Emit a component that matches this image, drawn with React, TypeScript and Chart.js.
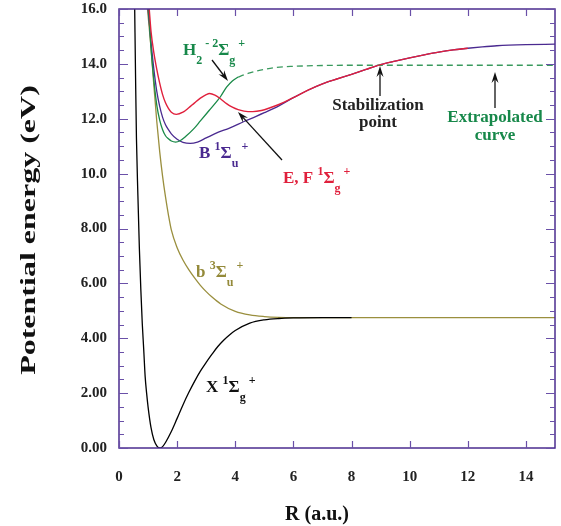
import React, { useEffect, useRef } from 'react';
import { Chart, registerables } from 'chart.js';

Chart.register(...registerables);

// ---- axis ticks ----
const xTickValues = [0, 2, 4, 6, 8, 10, 12, 14];
const yTickValues = [0, 2, 4, 6, 8, 10, 12, 14, 16];
const yTickLabels = ['0.00', '2.00', '4.00', '6.00', '8.00', '10.0', '12.0', '14.0', '16.0'];

// ---- X 1Σg+ (ground state) ----
const xStateR = [0.54, 0.57, 0.6, 0.65, 0.7, 0.75, 0.8, 0.85, 0.9, 0.95, 1.0, 1.1, 1.2, 1.3, 1.4, 1.5, 1.6, 1.8, 2.0, 2.2, 2.4, 2.6, 2.8, 3.0, 3.2, 3.4, 3.6, 3.8, 4.0, 4.5, 5.0, 5.5, 6.0, 7.0, 8.0];
const xStateE = [16.0, 13.5, 11.3, 9.2, 7.3, 5.8, 4.55, 3.6, 2.6, 2.0, 1.5, 0.75, 0.3, 0.08, 0.0, 0.05, 0.2, 0.6, 1.08, 1.57, 2.02, 2.43, 2.8, 3.12, 3.42, 3.7, 3.93, 4.12, 4.28, 4.55, 4.67, 4.72, 4.74, 4.75, 4.75];

// ---- b 3Σu+ ----
const bStateR = [0.98, 1.1, 1.2, 1.3, 1.4, 1.5, 1.6, 1.7, 1.8, 2.0, 2.2, 2.4, 2.6, 2.8, 3.0, 3.2, 3.5, 4.0, 4.5, 5.0, 5.5, 6.0, 8.0, 10.0, 12.0, 15.0];
const bStateE = [16.0, 14.6, 13.2, 11.9, 10.8, 9.9, 9.15, 8.5, 7.95, 7.3, 6.85, 6.5, 6.2, 5.93, 5.7, 5.5, 5.25, 4.98, 4.85, 4.79, 4.76, 4.75, 4.75, 4.75, 4.75, 4.75];

// ---- B 1Σu+ ----
const bigBStateR = [1.0, 1.1, 1.2, 1.3, 1.4, 1.5, 1.6, 1.7, 1.8, 2.0, 2.2, 2.45, 2.7, 3.0, 3.4, 3.8, 4.3, 4.7, 5.0, 5.5, 6.0, 6.5, 7.0, 7.5, 8.0, 8.5, 9.0, 9.5, 10.0, 10.5, 11.0, 11.5, 12.0, 12.5, 13.0, 14.0, 15.0];
const bigBStateE = [16.0, 14.8, 13.8, 13.0, 12.45, 12.05, 11.78, 11.6, 11.45, 11.25, 11.14, 11.1, 11.15, 11.3, 11.5, 11.66, 11.9, 12.08, 12.22, 12.47, 12.77, 13.04, 13.27, 13.45, 13.62, 13.8, 13.97, 14.1, 14.22, 14.33, 14.43, 14.51, 14.57, 14.62, 14.66, 14.7, 14.72];

// ---- H2- 2Σg+ (computed part) ----
const anionR = [1.02, 1.1, 1.2, 1.3, 1.4, 1.5, 1.6, 1.7, 1.8, 1.95, 2.1, 2.3, 2.56, 2.8, 3.1, 3.4, 3.5, 3.7, 3.9, 4.1];
const anionE = [16.0, 14.6, 13.4, 12.5, 11.95, 11.6, 11.38, 11.27, 11.19, 11.15, 11.2, 11.36, 11.62, 11.92, 12.3, 12.68, 12.82, 13.15, 13.38, 13.52];

// ---- H2- extrapolated curve (dashed) ----
const extrapR = [4.1, 4.3, 4.5, 4.75, 5.0, 5.4, 6.0, 7.0, 8.0, 15.0];
const extrapE = [13.52, 13.6, 13.67, 13.74, 13.8, 13.87, 13.91, 13.94, 13.95, 13.95];

// ---- E,F 1Σg+ ----
const efStateR = [1.04, 1.1, 1.2, 1.3, 1.4, 1.5, 1.6, 1.7, 1.8, 1.97, 2.2, 2.4, 2.6, 2.8, 3.0, 3.12, 3.3, 3.5, 3.7, 3.9, 4.1, 4.3, 4.6, 4.9, 5.2, 5.5, 6.0, 6.5, 7.0, 7.5, 8.0, 8.5, 9.0, 9.5, 10.0, 10.5, 11.0, 11.5, 12.0];
const efStateE = [16.0, 15.2, 14.4, 13.8, 13.3, 12.88, 12.58, 12.38, 12.24, 12.16, 12.24, 12.4, 12.58, 12.75, 12.88, 12.92, 12.86, 12.72, 12.55, 12.42, 12.33, 12.28, 12.26, 12.3, 12.4, 12.52, 12.77, 13.04, 13.27, 13.45, 13.62, 13.8, 13.97, 14.1, 14.22, 14.33, 14.43, 14.51, 14.57];

const pts = (r: number[], e: number[]) => r.map((v, i) => ({ x: v, y: e[i] }));

const SERIF = '"Liberation Serif", "Times New Roman", serif';
const FRAME = '#4b2d8f';

type Part = [string, 'n' | 'sup' | 'sub'];

function drawRich(ctx: CanvasRenderingContext2D, x: number, y: number, parts: Part[], color: string, size = 17) {
  ctx.fillStyle = color;
  ctx.textAlign = 'left';
  ctx.textBaseline = 'alphabetic';
  let cx = x;
  const small = Math.round(size * 0.7);
  for (const [t, k] of parts) {
    if (k === 'n') {
      ctx.font = `bold ${size}px ${SERIF}`;
      ctx.fillText(t, cx, y);
    } else if (k === 'sup') {
      ctx.font = `bold ${small}px ${SERIF}`;
      ctx.fillText(t, cx, y - size * 0.48);
    } else {
      ctx.font = `bold ${small}px ${SERIF}`;
      ctx.fillText(t, cx, y + size * 0.5);
    }
    cx += ctx.measureText(t).width;
  }
}

function arrow(ctx: CanvasRenderingContext2D, x1: number, y1: number, x2: number, y2: number) {
  const ang = Math.atan2(y2 - y1, x2 - x1);
  const len = 11;
  const hw = 3.5;
  ctx.strokeStyle = '#111';
  ctx.fillStyle = '#111';
  ctx.lineWidth = 1.3;
  ctx.beginPath();
  ctx.moveTo(x1, y1);
  ctx.lineTo(x2 - Math.cos(ang) * len * 0.6, y2 - Math.sin(ang) * len * 0.6);
  ctx.stroke();
  const bx = x2 - Math.cos(ang) * len;
  const by = y2 - Math.sin(ang) * len;
  ctx.beginPath();
  ctx.moveTo(x2, y2);
  ctx.lineTo(bx - Math.sin(ang) * hw, by + Math.cos(ang) * hw);
  ctx.lineTo(x2 - Math.cos(ang) * len * 0.65, y2 - Math.sin(ang) * len * 0.65);
  ctx.lineTo(bx + Math.sin(ang) * hw, by - Math.cos(ang) * hw);
  ctx.closePath();
  ctx.fill();
}

const decoPlugin = {
  id: 'deco',
  afterDraw(chart: any) {
    const { ctx, chartArea: ca, scales } = chart;
    const xs = scales.x;
    const ys = scales.y;
    ctx.save();
    // frame
    ctx.strokeStyle = FRAME;
    ctx.lineWidth = 1.5;
    ctx.strokeRect(ca.left, ca.top, ca.right - ca.left, ca.bottom - ca.top);
    // ticks
    ctx.lineWidth = 1.2;
    ctx.strokeStyle = '#6a50a8';
    ctx.beginPath();
    for (const v of xTickValues) {
      const px = Math.round(xs.getPixelForValue(v)) + 0.5;
      ctx.moveTo(px, ca.bottom);
      ctx.lineTo(px, ca.bottom - 7);
      ctx.moveTo(px, ca.top);
      ctx.lineTo(px, ca.top + 7);
    }
    for (let i = 0; i <= 32; i++) {
      const v = i * 0.5;
      const py = Math.round(ys.getPixelForValue(v)) + 0.5;
      const l = i % 4 === 0 ? 9 : 5;
      ctx.moveTo(ca.left, py);
      ctx.lineTo(ca.left + l, py);
      ctx.moveTo(ca.right, py);
      ctx.lineTo(ca.right - l, py);
    }
    ctx.stroke();

    // axis titles
    ctx.fillStyle = '#111';
    ctx.font = `bold 20px ${SERIF}`;
    ctx.textAlign = 'center';
    ctx.textBaseline = 'alphabetic';
    ctx.fillText('R (a.u.)', 317, 520);

    ctx.save();
    ctx.translate(35, 230);
    ctx.rotate(-Math.PI / 2);
    ctx.scale(1.6, 1);
    ctx.fillText('Potential energy (eV)', 0, 0);
    ctx.restore();

    // state labels
    drawRich(ctx, 183, 55, [['H', 'n'], ['2', 'sub'], [' -', 'sup'], [' 2', 'sup'], ['Σ', 'n'], ['g', 'sub'], [' +', 'sup']], '#17884a');
    drawRich(ctx, 199, 158, [['B ', 'n'], ['1', 'sup'], ['Σ', 'n'], ['u', 'sub'], [' +', 'sup']], '#4a2a90');
    drawRich(ctx, 283, 183, [['E, F ', 'n'], ['1', 'sup'], ['Σ', 'n'], ['g', 'sub'], [' +', 'sup']], '#e0203c');
    drawRich(ctx, 196, 277, [['b ', 'n'], ['3', 'sup'], ['Σ', 'n'], ['u', 'sub'], [' +', 'sup']], '#948a3a');
    drawRich(ctx, 206, 392, [['X ', 'n'], ['1', 'sup'], ['Σ', 'n'], ['g', 'sub'], [' +', 'sup']], '#111');

    ctx.font = `bold 17px ${SERIF}`;
    ctx.textAlign = 'center';
    ctx.fillStyle = '#222';
    ctx.fillText('Stabilization', 378, 110);
    ctx.fillText('point', 378, 127);
    ctx.fillStyle = '#17884a';
    ctx.fillText('Extrapolated', 495, 122);
    ctx.fillText('curve', 495, 140);

    arrow(ctx, 212, 60, 228, 81);
    arrow(ctx, 282, 160, 238, 112);
    arrow(ctx, 380, 96, 380, 66);
    arrow(ctx, 495, 108, 495, 72);
    ctx.restore();
  },
};

export default function App() {
  const ref = useRef<HTMLCanvasElement | null>(null);
  useEffect(() => {
    if (!ref.current) return;
    const common = { pointRadius: 0, borderWidth: 1.3, fill: false, showLine: true, cubicInterpolationMode: 'monotone' as const };
    // Chart.js paints the first dataset on top, so the list runs from top-most to bottom-most.
    const chart = new Chart(ref.current, {
      type: 'scatter',
      data: {
        datasets: [
          { ...common, data: pts(efStateR, efStateE), borderColor: '#e0203c', borderWidth: 1.4 },
          { ...common, data: pts(extrapR, extrapE), borderColor: '#3a9a5e', borderDash: [6, 4] },
          { ...common, data: pts(anionR, anionE), borderColor: '#1a8a48' },
          { ...common, data: pts(bigBStateR, bigBStateE), borderColor: '#4a2a90' },
          { ...common, data: pts(xStateR, xStateE), borderColor: '#000000' },
          { ...common, data: pts(bStateR, bStateE), borderColor: '#9a8f3e' },
        ],
      },
      options: {
        responsive: false,
        animation: false,
        events: [],
        layout: { padding: { left: 0, right: 6, top: 9, bottom: 0 } },
        plugins: { legend: { display: false }, tooltip: { enabled: false } },
        scales: {
          x: {
            type: 'linear',
            min: 0,
            max: 15,
            grid: { display: false, drawTicks: false },
            border: { display: false },
            afterBuildTicks: (s: any) => { s.ticks = xTickValues.map((v) => ({ value: v })); },
            afterFit: (s: any) => { s.height = 78; s.paddingLeft = 0; s.paddingRight = 0; },
            ticks: { font: { family: SERIF, weight: 'bold', size: 15 }, color: '#222', padding: 20, maxRotation: 0, autoSkip: false },
          },
          y: {
            type: 'linear',
            min: 0,
            max: 16,
            grid: { display: false, drawTicks: false },
            border: { display: false },
            afterBuildTicks: (s: any) => { s.ticks = yTickValues.map((v) => ({ value: v })); },
            afterFit: (s: any) => { s.width = 119; s.paddingTop = 0; s.paddingBottom = 0; },
            ticks: {
              font: { family: SERIF, weight: 'bold', size: 15 },
              color: '#222',
              padding: 12,
              autoSkip: false,
              callback: (v: any) => yTickLabels[yTickValues.indexOf(Number(v))] ?? '',
            },
          },
        },
      },
      plugins: [decoPlugin],
    });
    return () => chart.destroy();
  }, []);
  return (
    <div style={{ position: 'absolute', left: 0, top: 0, width: 561, height: 526, background: '#fff' }}>
      <canvas ref={ref} width={561} height={526} style={{ width: 561, height: 526, display: 'block' }} />
    </div>
  );
}
